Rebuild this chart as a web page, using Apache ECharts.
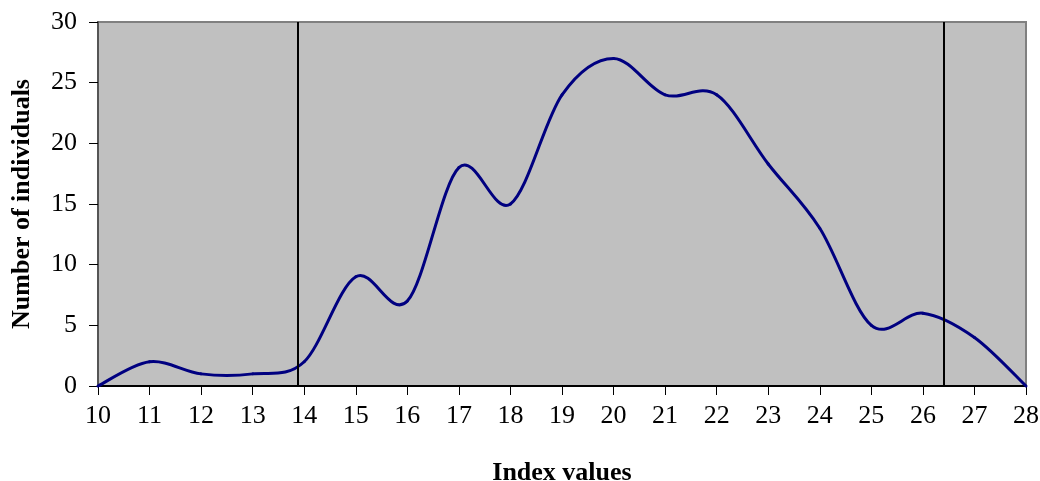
<!DOCTYPE html>
<html>
<head>
<meta charset="utf-8">
<script src="https://cdn.jsdelivr.net/npm/echarts@6/dist/echarts.min.js"></script>
<style>
  html, body { margin: 0; padding: 0; background: #fff; }
  #chart { width: 1040px; height: 481px; }
</style>
</head>
<body>
<div id="chart"></div>
<script>
var indexValues = [10, 11, 12, 13, 14, 15, 16, 17, 18, 19, 20, 21, 22, 23, 24, 25, 26, 27, 28];
var individuals = [0, 2, 1, 1, 2, 9, 7, 18, 15, 24, 27, 24, 24, 18.3, 13, 5, 6, 4, 0];
var cutLines = [13.88, 26.4];

var chart = echarts.init(document.getElementById('chart'));

var points = [];
for (var i = 0; i < indexValues.length; i++) {
  points.push([indexValues[i], individuals[i]]);
}

var font = 'Liberation Serif, Times New Roman, serif';

// smoothed segment like a spreadsheet "smoothed line" (catmull-rom -> bezier)
function renderSegment(params, api) {
  var i = params.dataIndex;
  if (i >= points.length - 1) return;
  var p0 = api.coord(points[Math.max(i - 1, 0)]);
  var p1 = api.coord(points[i]);
  var p2 = api.coord(points[i + 1]);
  var p3 = api.coord(points[Math.min(i + 2, points.length - 1)]);
  return {
    type: 'bezierCurve',
    shape: {
      x1: p1[0], y1: p1[1],
      cpx1: p1[0] + (p2[0] - p0[0]) / 6,
      cpy1: p1[1] + (p2[1] - p0[1]) / 6,
      cpx2: p2[0] - (p3[0] - p1[0]) / 6,
      cpy2: p2[1] - (p3[1] - p1[1]) / 6,
      x2: p2[0], y2: p2[1]
    },
    style: { stroke: '#000080', lineWidth: 3, fill: null, lineCap: 'round' }
  };
}

var option = {
  backgroundColor: '#FFFFFF',
  animation: false,
  grid: {
    left: 98,
    right: 14,
    top: 22,
    bottom: 95,
    outerBoundsMode: 'none',
    show: true,
    backgroundColor: '#C0C0C0',
    borderColor: '#808080',
    borderWidth: 2
  },
  xAxis: {
    type: 'value',
    min: 10,
    max: 28,
    interval: 1,
    name: 'Index values',
    nameLocation: 'middle',
    nameGap: 74,
    nameTextStyle: { fontFamily: font, fontSize: 26, fontWeight: 'bold', color: '#000' },
    axisLine: { show: true, lineStyle: { color: '#000', width: 2 } },
    axisTick: { show: true, inside: false, length: 9, lineStyle: { color: '#000', width: 1 } },
    axisLabel: { margin: 17, fontFamily: font, fontSize: 26, color: '#000' },
    splitLine: { show: false }
  },
  yAxis: {
    type: 'value',
    min: 0,
    max: 30,
    interval: 5,
    name: 'Number of individuals',
    nameLocation: 'middle',
    nameGap: 63,
    nameTextStyle: { fontFamily: font, fontSize: 26, fontWeight: 'bold', color: '#000' },
    axisLine: { show: true, lineStyle: { color: '#555', width: 2 } },
    axisTick: { show: true, inside: false, length: 9, lineStyle: { color: '#000', width: 1 } },
    axisLabel: { margin: 21, fontFamily: font, fontSize: 26, color: '#000' },
    splitLine: { show: false }
  },
  series: [
    {
      type: 'custom',
      data: points,
      encode: { x: 0, y: 1 },
      clip: false,
      renderItem: renderSegment,
      z: 3
    },
    {
      type: 'line',
      data: [],
      markLine: {
        silent: true,
        symbol: 'none',
        label: { show: false },
        lineStyle: { color: '#000', width: 2, type: 'solid' },
        data: cutLines.map(function (v) { return { xAxis: v }; })
      }
    }
  ]
};

chart.setOption(option);
</script>
</body>
</html>
